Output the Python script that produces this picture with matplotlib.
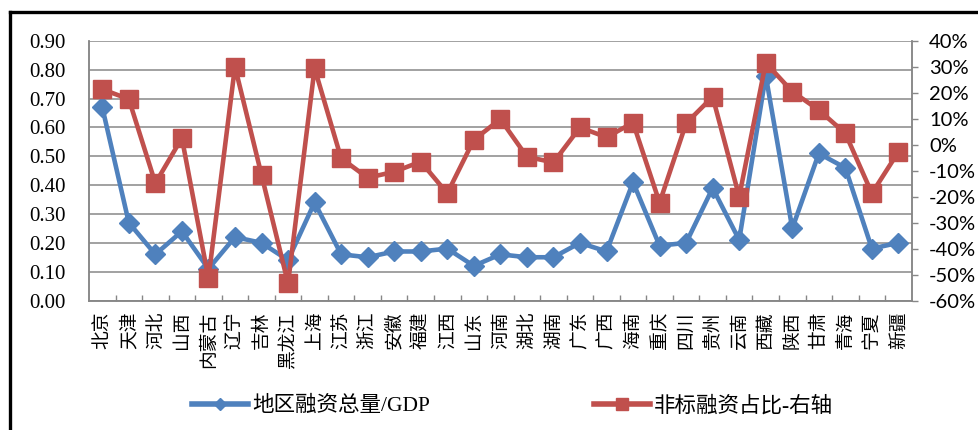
import matplotlib
matplotlib.use("Agg")
import matplotlib.pyplot as plt
from matplotlib.lines import Line2D
from matplotlib.ticker import FuncFormatter
import numpy as np

# ---- data ----
provinces = [
    "北京", "天津", "河北", "山西", "内蒙古", "辽宁", "吉林", "黑龙江",
    "上海", "江苏", "浙江", "安徽", "福建", "江西", "山东", "河南",
    "湖北", "湖南", "广东", "广西", "海南", "重庆", "四川", "贵州",
    "云南", "西藏", "陕西", "甘肃", "青海", "宁夏", "新疆",
]
financing_to_gdp = [
    0.67, 0.27, 0.16, 0.24, 0.11, 0.22, 0.20, 0.14,
    0.34, 0.16, 0.15, 0.17, 0.17, 0.18, 0.12, 0.16,
    0.15, 0.15, 0.20, 0.17, 0.41, 0.19, 0.20, 0.39,
    0.21, 0.78, 0.25, 0.51, 0.46, 0.18, 0.20,
]
nonstandard_share = [  # percent, right axis
    21.4, 17.6, -14.8, 2.6, -51.5, 30.1, -11.6, -53.4,
    29.5, -5.2, -12.7, -10.4, -6.5, -18.7, 1.9, 9.9,
    -4.6, -6.8, 6.7, 2.9, 8.5, -22.3, 8.3, 18.5,
    -20.0, 31.6, 20.5, 13.4, 4.4, -18.7, -2.7,
]
left_ticks = [0.0, 0.1, 0.2, 0.3, 0.4, 0.5, 0.6, 0.7, 0.8, 0.9]
right_ticks = [-60, -50, -40, -30, -20, -10, 0, 10, 20, 30, 40]
legend_labels = ["地区融资总量/GDP", "非标融资占比-右轴"]

BLUE = "#4F81BD"
RED = "#C0504D"
GREY = "#878787"
CJK = ["Liberation Serif", "Noto Sans CJK SC"]

fig = plt.figure(figsize=(9.79, 4.30), dpi=100)
ax = fig.add_axes([89 / 979, 1 - 300.5 / 430, (911.7 - 89) / 979, (300.5 - 41) / 430])

x = np.arange(len(provinces))
ax.plot(x, financing_to_gdp, color=BLUE, lw=3.3, marker="D", ms=10,
        clip_on=False, zorder=3)
ax.set_xlim(-0.5, len(provinces) - 0.5)
ax.set_ylim(0, 0.9)
ax.set_yticks(left_ticks)
ax.yaxis.set_major_formatter(FuncFormatter(lambda v, _: f"{v:.2f}"))
ax.tick_params(axis="y", length=0, pad=17, labelsize=15)
for lab in ax.get_yticklabels():
    lab.set_family("Liberation Serif")
ax.yaxis.grid(True, color=GREY, lw=1.1)
ax.set_axisbelow(True)

# category labels at centres, boundary ticks between categories
ax.set_xticks(x)
ax.set_xticklabels(provinces, rotation=90, family=["Noto Sans CJK SC"], fontsize=13.5)
ax.tick_params(axis="x", length=0, pad=8)
ax.set_xticks(np.arange(0.5, len(provinces) - 1, 1.0), minor=True)
ax.tick_params(axis="x", which="minor", direction="in", length=4.5, color=GREY, width=1)

for side in ["left", "bottom", "right"]:
    ax.spines[side].set_color(GREY)
    ax.spines[side].set_linewidth(1.1)
ax.spines["top"].set_visible(False)

# right axis
ax2 = ax.twinx()
ax2.plot(x, nonstandard_share, color=RED, lw=3.3, marker="s", ms=13,
         clip_on=False, zorder=4)
ax2.set_ylim(-60, 40)
ax2.set_yticks(right_ticks)
ax2.yaxis.set_major_formatter(FuncFormatter(lambda v, _: f"{v:.0f}%"))
ax2.tick_params(axis="y", direction="out", length=4.5, color=GREY, width=1,
                pad=8, labelsize=14.5)
for lab in ax2.get_yticklabels():
    lab.set_family("Lato")
for side in ["left", "bottom", "right"]:
    ax2.spines[side].set_color(GREY)
    ax2.spines[side].set_linewidth(1.1)
ax2.spines["top"].set_visible(False)

# legends
h_blue = Line2D([], [], color=BLUE, lw=4, marker="D", ms=6)
h_red = Line2D([], [], color=RED, lw=4, marker="s", ms=9)
fig.legend([h_blue], [legend_labels[0]], loc="center left",
           bbox_to_anchor=(192 / 979, 1 - 406 / 430), frameon=False,
           handlelength=2.6, handletextpad=0.2, borderpad=0, borderaxespad=0,
           prop={"family": CJK, "size": 15.5})
fig.legend([h_red], [legend_labels[1]], loc="center left",
           bbox_to_anchor=(594 / 979, 1 - 406 / 430), frameon=False,
           handlelength=2.6, handletextpad=0.2, borderpad=0, borderaxespad=0,
           prop={"family": CJK, "size": 15.5})

# outer frame (only left and top edges are visible in the crop)
fig.add_artist(Line2D([10 / 979, 10 / 979], [0, 1 - 12 / 430],
                      transform=fig.transFigure, color="black", lw=2.4))
fig.add_artist(Line2D([10 / 979, 1], [1 - 12 / 430, 1 - 12 / 430],
                      transform=fig.transFigure, color="black", lw=2.4))

fig.savefig("out.png", dpi=100, facecolor="white")
